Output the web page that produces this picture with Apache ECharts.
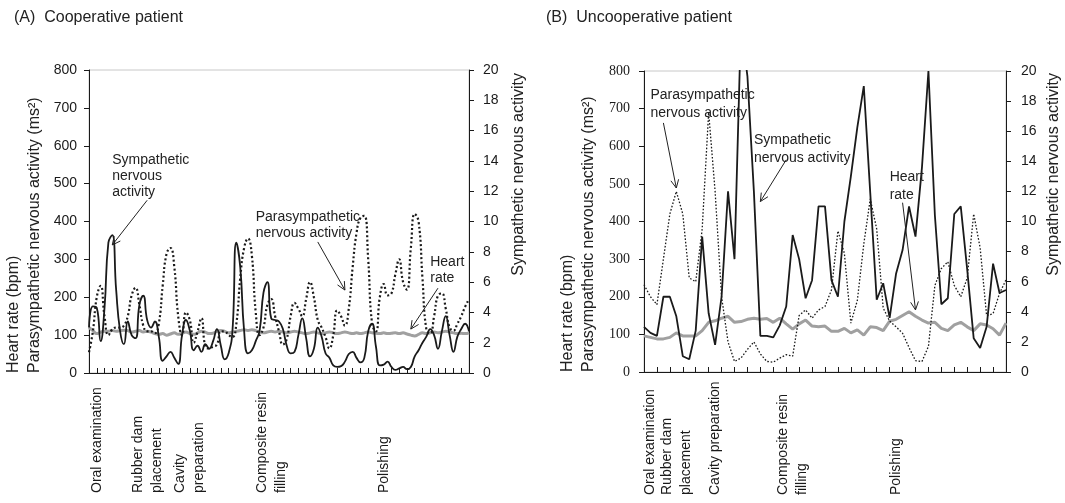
<!DOCTYPE html>
<html><head><meta charset="utf-8">
<script src="https://cdn.jsdelivr.net/npm/echarts@6/dist/echarts.min.js"></script>
<style>html,body{margin:0;padding:0;background:#fff}#c{width:1065px;height:503px}</style>
</head><body><div id="c"></div>
<script>
// ---------- Panel A (cooperative patient) ----------
const symA = [3.0,4.4,4.3,2.1,4.3,8.6,9.1,5.5,2.8,1.9,
 3.4,2.5,2.3,4.5,5.1,3.5,3.0,3.4,2.4,0.8,
 1.1,1.4,1.0,0.6,2.5,3.5,2.8,1.5,1.8,1.4,
 1.9,1.6,2.1,2.9,1.8,0.9,1.3,2.8,8.6,7.0,
 2.8,1.3,1.5,2.1,2.8,5.3,6.0,3.6,3.5,3.4,
 2.9,1.8,1.3,1.4,2.5,3.6,2.3,1.1,1.6,3.0,
 2.4,1.3,1.0,0.5,0.4,0.45,0.75,1.25,1.4,1.0,
 0.7,1.0,2.75,3.25,1.75,0.5,0.55,0.75,0.4,0.2,
 0.3,0.4,0.25,0.4,1.1,1.5,2.0,2.4,2.9,2.5,
 1.6,2.75,3.75,2.5,1.4,2.4,2.9,3.25,2.75];
const paraA = [55,110,200,230,150,100,115,120,120,125,
 150,205,225,180,125,110,110,105,130,230,
 315,330,280,150,100,160,140,80,110,145,
 70,65,70,75,110,110,100,95,130,250,
 330,355,310,160,100,120,180,195,150,110,
 75,90,150,185,170,150,195,240,200,140,
 120,95,65,100,165,150,125,170,280,370,
 410,415,300,130,110,200,235,205,210,260,
 300,240,220,330,420,400,250,115,105,150,
 205,210,170,120,112,130,150,175,195];
const hrA = [120,112,104,108,110,110,112,110,112,113,
 112,108,110,112,108,110,108,104,102,104,
 100,103,106,102,105,108,104,102,106,110,
 108,104,105,110,112,110,106,108,110,112,
 114,112,114,112,108,106,108,110,108,110,
 108,106,108,110,108,106,104,106,108,106,
 104,106,108,106,104,106,108,106,104,106,
 104,106,108,106,105,104,106,104,105,106,
 104,106,103,100,98,102,106,104,106,108,
 106,108,110,108,106,104,105,104,106];
const stageNamesA = ['Oral examination','Rubber dam\nplacement','Cavity\npreparation','Composite resin\nfilling','Polishing'];
const stageIdxA = [2,15,26,47,76];

// ---------- Panel B (uncooperative patient) ----------
const symB = [3.0,2.6,2.4,5.0,5.0,3.7,1.05,0.85,2.75,9.0,
 3.9,1.8,5.0,12.0,7.5,23.1,19.65,12.0,2.4,2.4,
 2.3,3.1,4.35,9.1,7.5,4.9,6.1,11.0,11.0,6.1,
 5.0,10.0,13.0,16.25,19.0,11.9,4.8,5.9,3.6,6.55,
 8.1,11.0,9.0,13.6,20.0,10.4,4.5,4.9,10.5,11.0,
 6.8,2.25,1.6,3.0,7.2,5.25,5.45];
const paraB = [232,200,179,300,420,480,420,250,240,380,
 690,480,200,80,28,37,60,80,48,28,
 26,37,46,42,150,165,143,165,174,218,
 375,315,130,190,340,460,380,170,135,120,
 103,65,30,28,68,230,275,293,230,200,
 250,420,330,150,155,209,245];
const hrB = [96,92,88,88,92,104,96,96,96,110,
 132,136,143,148,132,134,140,143,140,142,
 132,143,128,114,128,138,122,120,122,108,
 108,116,104,112,98,120,118,110,135,140,
 150,160,148,138,130,132,116,110,125,132,
 120,110,128,125,115,98,130];
const stageNamesB = ['Oral examination','Rubber dam\nplacement','Cavity preparation','Composite resin\nfilling','Polishing'];
const stageIdxB = [1,5,11,23,39];

// axis scales
const leftAxis = {min:0, max:800, interval:100};
const rightAxis = {min:0, max:20, interval:2};

// annotations in data coordinates [category index, left-axis value]
const annA = [
  {text:'Sympathetic\nnervous\nactivity', at:[5.7,583], from:[15.2,456], to:[6.4,338]},
  {text:'Parasympathetic\nnervous activity', at:[43,433], from:[58.5,346], to:[65.8,219]},
  {text:'Heart\nrate', at:[88,314], from:[89.5,224], to:[82.6,116]}
];
const annB = [
  {text:'Parasympathetic\nnervous activity', at:[0.6,760], from:[2.7,662], to:[4.5,489]},
  {text:'Sympathetic\nnervous activity', at:[17.4,641], from:[21.5,564], to:[17.9,453]},
  {text:'Heart\nrate', at:[37.5,542], from:[39.5,450], to:[41.6,165]}
];

const catsA = symA.map((_, i) => String(i + 1));
const catsB = symB.map((_, i) => String(i + 1));

const INK = '#1a1a1a';
const SANS = 'Liberation Sans, Arial, sans-serif';
const SERIF = 'Liberation Serif, Times New Roman, serif';

function xAxisFor(grid, cats, names, idx, margin) {
  return {
    type:'category', gridIndex:grid, data:cats, boundaryGap:false,
    axisLine:{lineStyle:{color:INK, width:1}},
    axisTick:{inside:true, length:5, interval:1, lineStyle:{color:INK, width:1}},
    axisLabel:{interval:0, rotate:90, fontSize:14, lineHeight:19, color:INK, margin:margin, fontFamily:SANS,
      align:'left', verticalAlign:'middle',
      formatter:(v, i) => { const k = idx.indexOf(i); return k >= 0 ? names[k] : ''; }},
    splitLine:{show:false}
  };
}
function yAxisFor(grid, sc, pos, font, margin) {
  return {
    type:'value', gridIndex:grid, position:pos, min:sc.min, max:sc.max, interval:sc.interval,
    axisLine:{show:true, lineStyle:{color:INK, width:1}},
    axisTick:{show:true, inside:false, length:5, lineStyle:{color:INK}},
    axisLabel:{fontSize:14, color:INK, fontFamily:font, margin:margin},
    splitLine:{show:false}
  };
}
function lineSeries(name, data, xi, yi, style, smooth, z) {
  return {name, type:'line', data, xAxisIndex:xi, yAxisIndex:yi, smooth, symbol:'none',
    lineStyle:style, z, animation:false};
}

const chart = echarts.init(document.getElementById('c'), null, {renderer:'canvas'});
chart.setOption({
  animation:false,
  backgroundColor:'#fff',
  grid:[
    {left:89, top:70, width:380, height:303, show:true, borderColor:'#c8c8c8', borderWidth:1},
    {left:644, top:71, width:362, height:301, show:true, borderColor:'#c8c8c8', borderWidth:1}
  ],
  xAxis:[xAxisFor(0, catsA, stageNamesA, stageIdxA, 120), xAxisFor(1, catsB, stageNamesB, stageIdxB, 123)],
  yAxis:[
    yAxisFor(0, leftAxis, 'left', SANS, 12),
    yAxisFor(0, rightAxis, 'right', SANS, 14),
    yAxisFor(1, leftAxis, 'left', SERIF, 14),
    yAxisFor(1, rightAxis, 'right', SANS, 15)
  ],
  series:[
    lineSeries('Heart rate A', hrA, 0, 0, {color:'#a0a0a0', width:3}, 0.5, 2),
    lineSeries('Parasympathetic A', paraA, 0, 0, {color:INK, width:2.2, type:[2,2.4]}, 0.5, 3),
    lineSeries('Sympathetic A', symA, 0, 1, {color:INK, width:1.8}, 0.5, 4),
    lineSeries('Heart rate B', hrB, 1, 2, {color:'#a0a0a0', width:3}, false, 2),
    lineSeries('Parasympathetic B', paraB, 1, 2, {color:INK, width:1.3, type:[1.6,1.8]}, false, 3),
    lineSeries('Sympathetic B', symB, 1, 3, {color:INK, width:1.8}, false, 4)
  ]
});

function annGraphics(list, xi, yi, fontSize, lh) {
  const out = [];
  const px = p => chart.convertToPixel({xAxisIndex:xi, yAxisIndex:yi}, p);
  list.forEach(a => {
    const t = px(a.at), f = px(a.from), e = px(a.to);
    out.push({type:'text', x:t[0], y:t[1], z:10,
      style:{text:a.text, fontSize, lineHeight:lh, fill:'#222', fontFamily:SANS, align:'left', verticalAlign:'top'}});
    out.push({type:'line', z:10, shape:{x1:f[0], y1:f[1], x2:e[0], y2:e[1]}, style:{stroke:'#222', lineWidth:1}});
    const ang = Math.atan2(f[1] - e[1], f[0] - e[0]), L = 9, w = 0.45;
    out.push({type:'polyline', z:10, shape:{points:[
      [e[0] + L*Math.cos(ang + w), e[1] + L*Math.sin(ang + w)], [e[0], e[1]],
      [e[0] + L*Math.cos(ang - w), e[1] + L*Math.sin(ang - w)]]},
      style:{stroke:'#222', lineWidth:1, fill:null}});
  });
  return out;
}
function vText(x, y, text, align) {
  return {type:'text', x, y, rotation:Math.PI/2,
    style:{text, fontSize:16, fill:'#222', fontFamily:SANS, align, verticalAlign:'middle'}};
}
const g = [
  {type:'text', x:14, y:18, style:{text:'(A)  Cooperative patient', fontSize:16, fill:'#222', fontFamily:SANS, align:'left', verticalAlign:'middle'}},
  {type:'text', x:546, y:18, style:{text:'(B)  Uncooperative patient', fontSize:16, fill:'#222', fontFamily:SANS, align:'left', verticalAlign:'middle'}},
  vText(14, 373, 'Heart rate (bpm)', 'left'),
  vText(35, 373, 'Parasympathetic nervous activity (ms²)', 'left'),
  vText(519, 73, 'Sympathetic nervous activity', 'right'),
  vText(568, 372, 'Heart rate (bpm)', 'left'),
  vText(589, 372, 'Parasympathetic nervous activity (ms²)', 'left'),
  vText(1054, 73, 'Sympathetic nervous activity', 'right')
].concat(annGraphics(annA, 0, 0, 14, 16), annGraphics(annB, 1, 2, 14, 18));
chart.setOption({graphic:g});
</script></body></html>
